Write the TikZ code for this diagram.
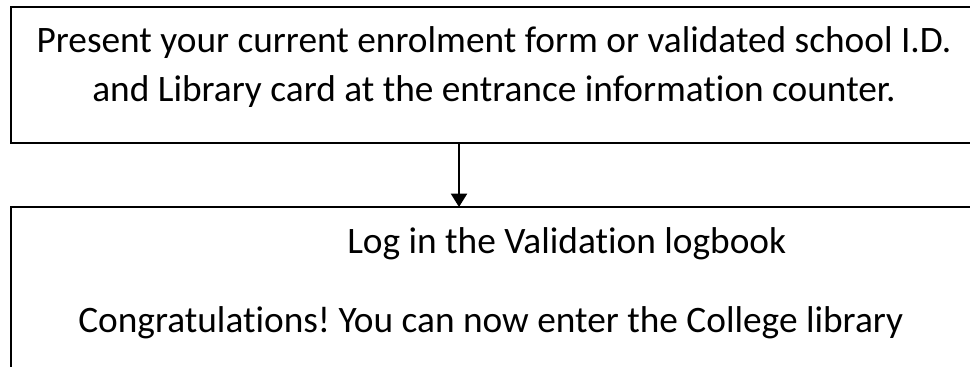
\documentclass[tikz,border=0pt]{standalone}
\usepackage{fontspec}
\setmainfont[Ligatures=NoCommon]{Carlito}
\usetikzlibrary{arrows.meta,positioning}
\frenchspacing

\tikzset{
  box/.style={draw, line width=1.5pt, rectangle, inner sep=0pt, outer sep=0pt,
              anchor=north west, minimum width=741.75pt},
  line/.style={font=\fontsize{28}{34}\selectfont, inner sep=0pt},
  flow/.style={line width=1.5pt, -{Triangle[width=12pt,length=10pt]}}
}

\begin{document}
\begin{tikzpicture}[x=0.75pt,y=-0.75pt]
        \useasboundingbox (0,0) rectangle (970,367);
        \node[box, minimum height=102pt] (enrolbox) at (11,7) {};
        \node[box, minimum height=150pt] (validbox) at (11,207) {};

        \node[line, anchor=base] (presentline) at (494,53) {Present your current enrolment form or validated school I.D.};
        \node[line, anchor=base] (cardline) at (494,102) {and Library card at the entrance information counter.};
        \node[line, anchor=base west] (logline) at (347,253) {Log in the Validation logbook};
        \node[line, anchor=base west] (enterline) at (78,332) {Congratulations! You can now enter the College library};

        \coordinate (arrowx) at (459,0);
        \draw[flow] (enrolbox.south -| arrowx) to (validbox.north -| arrowx);
\end{tikzpicture}
\end{document}
